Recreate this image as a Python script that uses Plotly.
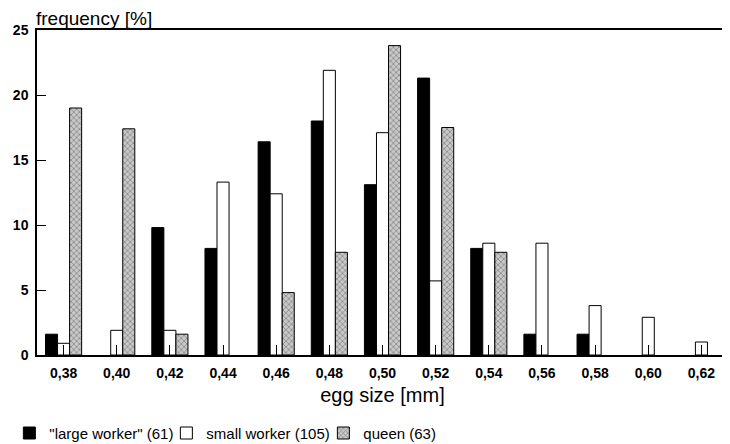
import plotly.graph_objects as go

categories = ["0,38", "0,40", "0,42", "0,44", "0,46", "0,48", "0,50", "0,52", "0,54", "0,56", "0,58", "0,60", "0,62"]
large_worker = [1.6, 0, 9.8, 8.2, 16.4, 18.0, 13.1, 21.3, 8.2, 1.6, 1.6, 0, 0]
small_worker = [0.9, 1.9, 1.9, 13.3, 12.4, 21.9, 17.1, 5.7, 8.6, 8.6, 3.8, 2.9, 1.0]
queen = [19.0, 17.4, 1.6, 0, 4.8, 7.9, 23.8, 17.5, 7.9, 0, 0, 0, 0]
y_ticks = [0, 5, 10, 15, 20, 25]


def shown(values):
    # empty classes are not drawn at all in the original figure
    return [v if v > 0 else None for v in values]


fig = go.Figure()
fig.add_bar(x=categories, y=shown(large_worker), name='"large worker" (61)',
            marker=dict(color="black", line=dict(color="black", width=1)))
fig.add_bar(x=categories, y=shown(small_worker), name="small worker (105)",
            marker=dict(color="white", line=dict(color="black", width=1)))
fig.add_bar(x=categories, y=shown(queen), name="queen (63)",
            marker=dict(color="#c0c0c0", line=dict(color="black", width=1),
                        pattern=dict(shape="x", fgcolor="#2a2a2a", bgcolor="#c8c8c8",
                                     size=4, solidity=0.3, fillmode="overlay")))

# the page body keeps an 8px margin, so the figure is made 8px smaller
fig.update_layout(
    width=722, height=436,
    margin=dict(l=29, r=2, t=22, b=89, autoexpand=False),
    paper_bgcolor="white", plot_bgcolor="white",
    barmode="group", bargap=0.32, bargroupgap=0,
    font=dict(family="Liberation Sans, Arial, sans-serif", color="black", size=14),
    showlegend=True,
    legend=dict(orientation="h", x=-0.04, xanchor="left", y=-0.19, yanchor="top",
                font=dict(size=15), itemwidth=30, tracegroupgap=0,
                entrywidth=112, entrywidthmode="pixels"),
    annotations=[dict(text="frequency [%]", xref="paper", yref="paper", x=-0.003, y=1.0,
                      xanchor="left", yanchor="middle", showarrow=False, borderpad=0,
                      font=dict(size=19, color="black"), yshift=12)],
)
fig.update_xaxes(type="category", showline=True, linecolor="black", linewidth=1.5,
                 mirror=True, ticks="inside", ticklen=10, tickcolor="black",
                 showgrid=False, tickfont=dict(size=14, weight="bold"),
                 ticklabelstandoff=4,
                 title=dict(text="egg size [mm]", font=dict(size=20), standoff=8))
fig.update_yaxes(range=[0, 25], tickvals=y_ticks, showline=True, linecolor="black",
                 linewidth=1.5, ticks="inside", ticklen=9, tickcolor="black",
                 showgrid=False, zeroline=False, tickfont=dict(size=14, weight="bold"),
                 ticklabelstandoff=4)

fig.write_html("out.html")
